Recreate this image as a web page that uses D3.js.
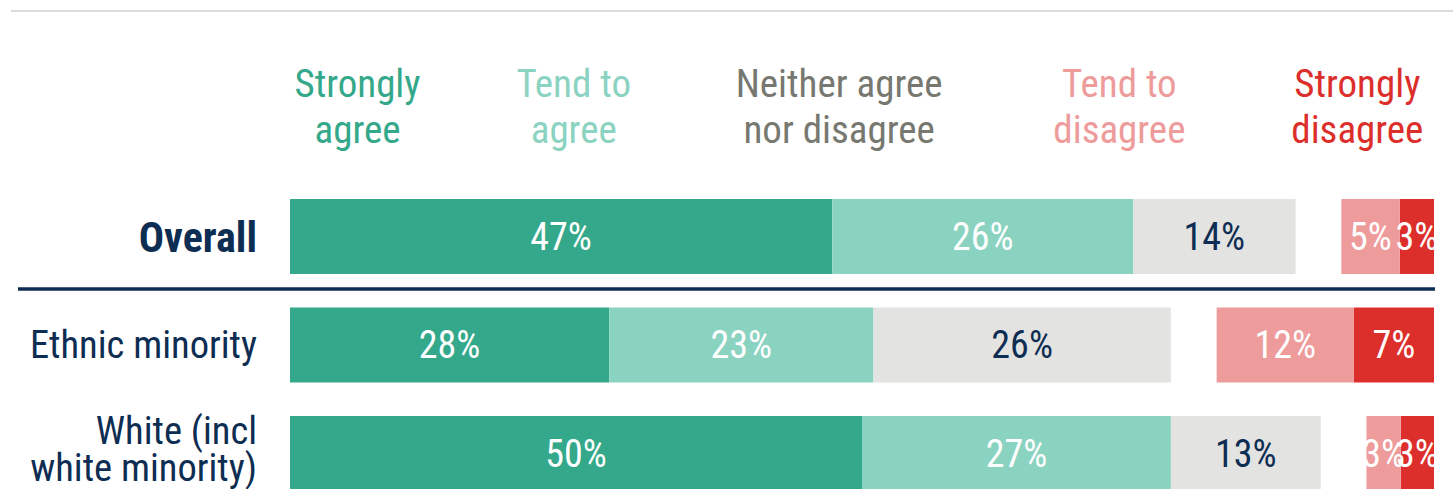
<!DOCTYPE html>
<html><head><meta charset="utf-8">
<script src="https://cdn.jsdelivr.net/npm/d3@7"></script>
<style>
  body { margin: 0; background: #fff; }
  text { font-family: "Roboto Condensed", "DejaVu Sans Condensed", sans-serif; font-weight: 400; }
</style>
</head><body>
<svg id="chart" width="1453" height="489"></svg>
<script>
// response categories, in stacking order
var categories = ["Strongly agree", "Tend to agree", "Neither agree nor disagree", "Tend to disagree", "Strongly disagree"];
var headerLines = [["Strongly", "agree"], ["Tend to", "agree"], ["Neither agree", "nor disagree"], ["Tend to", "disagree"], ["Strongly", "disagree"]];

// groups (rows)
var groups = ["Overall", "Ethnic minority", "White (incl white minority)"];
var groupLines = [["Overall"], ["Ethnic minority"], ["White (incl", "white minority)"]];

// share of respondents, %
var overall = [47.4, 26.3, 14.2, 5.1, 3.0];
var ethnicMinority = [27.9, 23.1, 26.0, 12.0, 7.0];
var white = [50.0, 27.0, 13.1, 3.0, 2.9];

var colors = ["#34a88a", "#8bd3c1", "#e3e3e2", "#ed9b9b", "#dc2f2b"];
var headerColors = ["#34a88a", "#8bd3c1", "#777870", "#ed9b9b", "#dc2f2b"];
var labelColors = ["#fff", "#fff", "#0e2d52", "#fff", "#fff"];
var navy = "#0e2d52";

var rows = [overall, ethnicMinority, white];

var svg = d3.select("#chart");

var x = d3.scaleLinear().domain([0, 100]).range([290, 1434]);
var y = d3.scaleBand().domain(groups).range([199, 491]).paddingInner(0.309).paddingOuter(0);

// header column centres, in % along the bar
var headerAt = [5.9, 24.8, 48.0, 72.5, 93.3];

// top rule
svg.append("line")
    .attr("x1", 11).attr("x2", 1453)
    .attr("y1", 11).attr("y2", 11)
    .attr("stroke", "#dcdcdc")
    .attr("stroke-width", 2);

// column headers
var header = svg.append("g").attr("class", "header");
categories.forEach(function(c, i) {
    var t = header.append("text")
        .attr("x", x(headerAt[i]))
        .attr("y", 97)
        .attr("text-anchor", "middle")
        .attr("fill", headerColors[i])
        .style("font-size", "39px");
    headerLines[i].forEach(function(line, j) {
        t.append("tspan")
            .attr("x", x(headerAt[i]))
            .attr("dy", j === 0 ? 0 : 46)
            .text(line);
    });
});

// build segments: agree + neither from the left, disagree flush to the right
function segments(vals, g) {
    var out = [];
    var acc = 0;
    for (var i = 0; i < 3; i++) {
        out.push({ group: g, i: i, v: vals[i], x0: acc, x1: acc + vals[i] });
        acc += vals[i];
    }
    var end = 100;
    for (var k = 4; k >= 3; k--) {
        out.push({ group: g, i: k, v: vals[k], x0: end - vals[k], x1: end });
        end -= vals[k];
    }
    return out;
}

var data = [];
rows.forEach(function(vals, gi) { data = data.concat(segments(vals, groups[gi])); });

// Attach bars
svg.append("g").selectAll("rect")
    .data(data)
    .enter().append("rect")
    .attr("x", function(d) { return x(d.x0); })
    .attr("y", function(d) { return y(d.group); })
    .attr("width", function(d) { return x(d.x1) - x(d.x0); })
    .attr("height", y.bandwidth())
    .attr("fill", function(d) { return colors[d.i]; });

// Attach value labels
svg.append("g").selectAll("text")
    .data(data)
    .enter().append("text")
    .attr("x", function(d) { return (x(d.x0) + x(d.x1)) / 2; })
    .attr("y", function(d) { return y(d.group) + y.bandwidth() / 2; })
    .attr("dy", "0.35em")
    .attr("text-anchor", "middle")
    .attr("fill", function(d) { return labelColors[d.i]; })
    .style("font-size", "38px")
    .text(function(d) { return d3.format(".0f")(d.v) + "%"; });

// row labels
groups.forEach(function(g, gi) {
    var lines = groupLines[gi];
    var cy = y(g) + y.bandwidth() / 2;
    var t = svg.append("text")
        .attr("x", 257)
        .attr("text-anchor", "end")
        .attr("fill", navy)
        .style("font-size", gi === 0 ? "42px" : "38.5px")
        .style("font-weight", gi === 0 ? 700 : 400)
        .attr("y", lines.length === 1 ? cy : cy - 10)
        .attr("dy", gi === 0 ? "0.36em" : (lines.length === 1 ? "0.33em" : 0));
    lines.forEach(function(line, j) {
        t.append("tspan")
            .attr("x", 257)
            .attr("dy", j === 0 ? null : 37)
            .text(line);
    });
});

// divider under Overall
svg.append("line")
    .attr("x1", 18).attr("x2", 1435)
    .attr("y1", 289).attr("y2", 289)
    .attr("stroke", navy)
    .attr("stroke-width", 3.5);
</script>
</body></html>
